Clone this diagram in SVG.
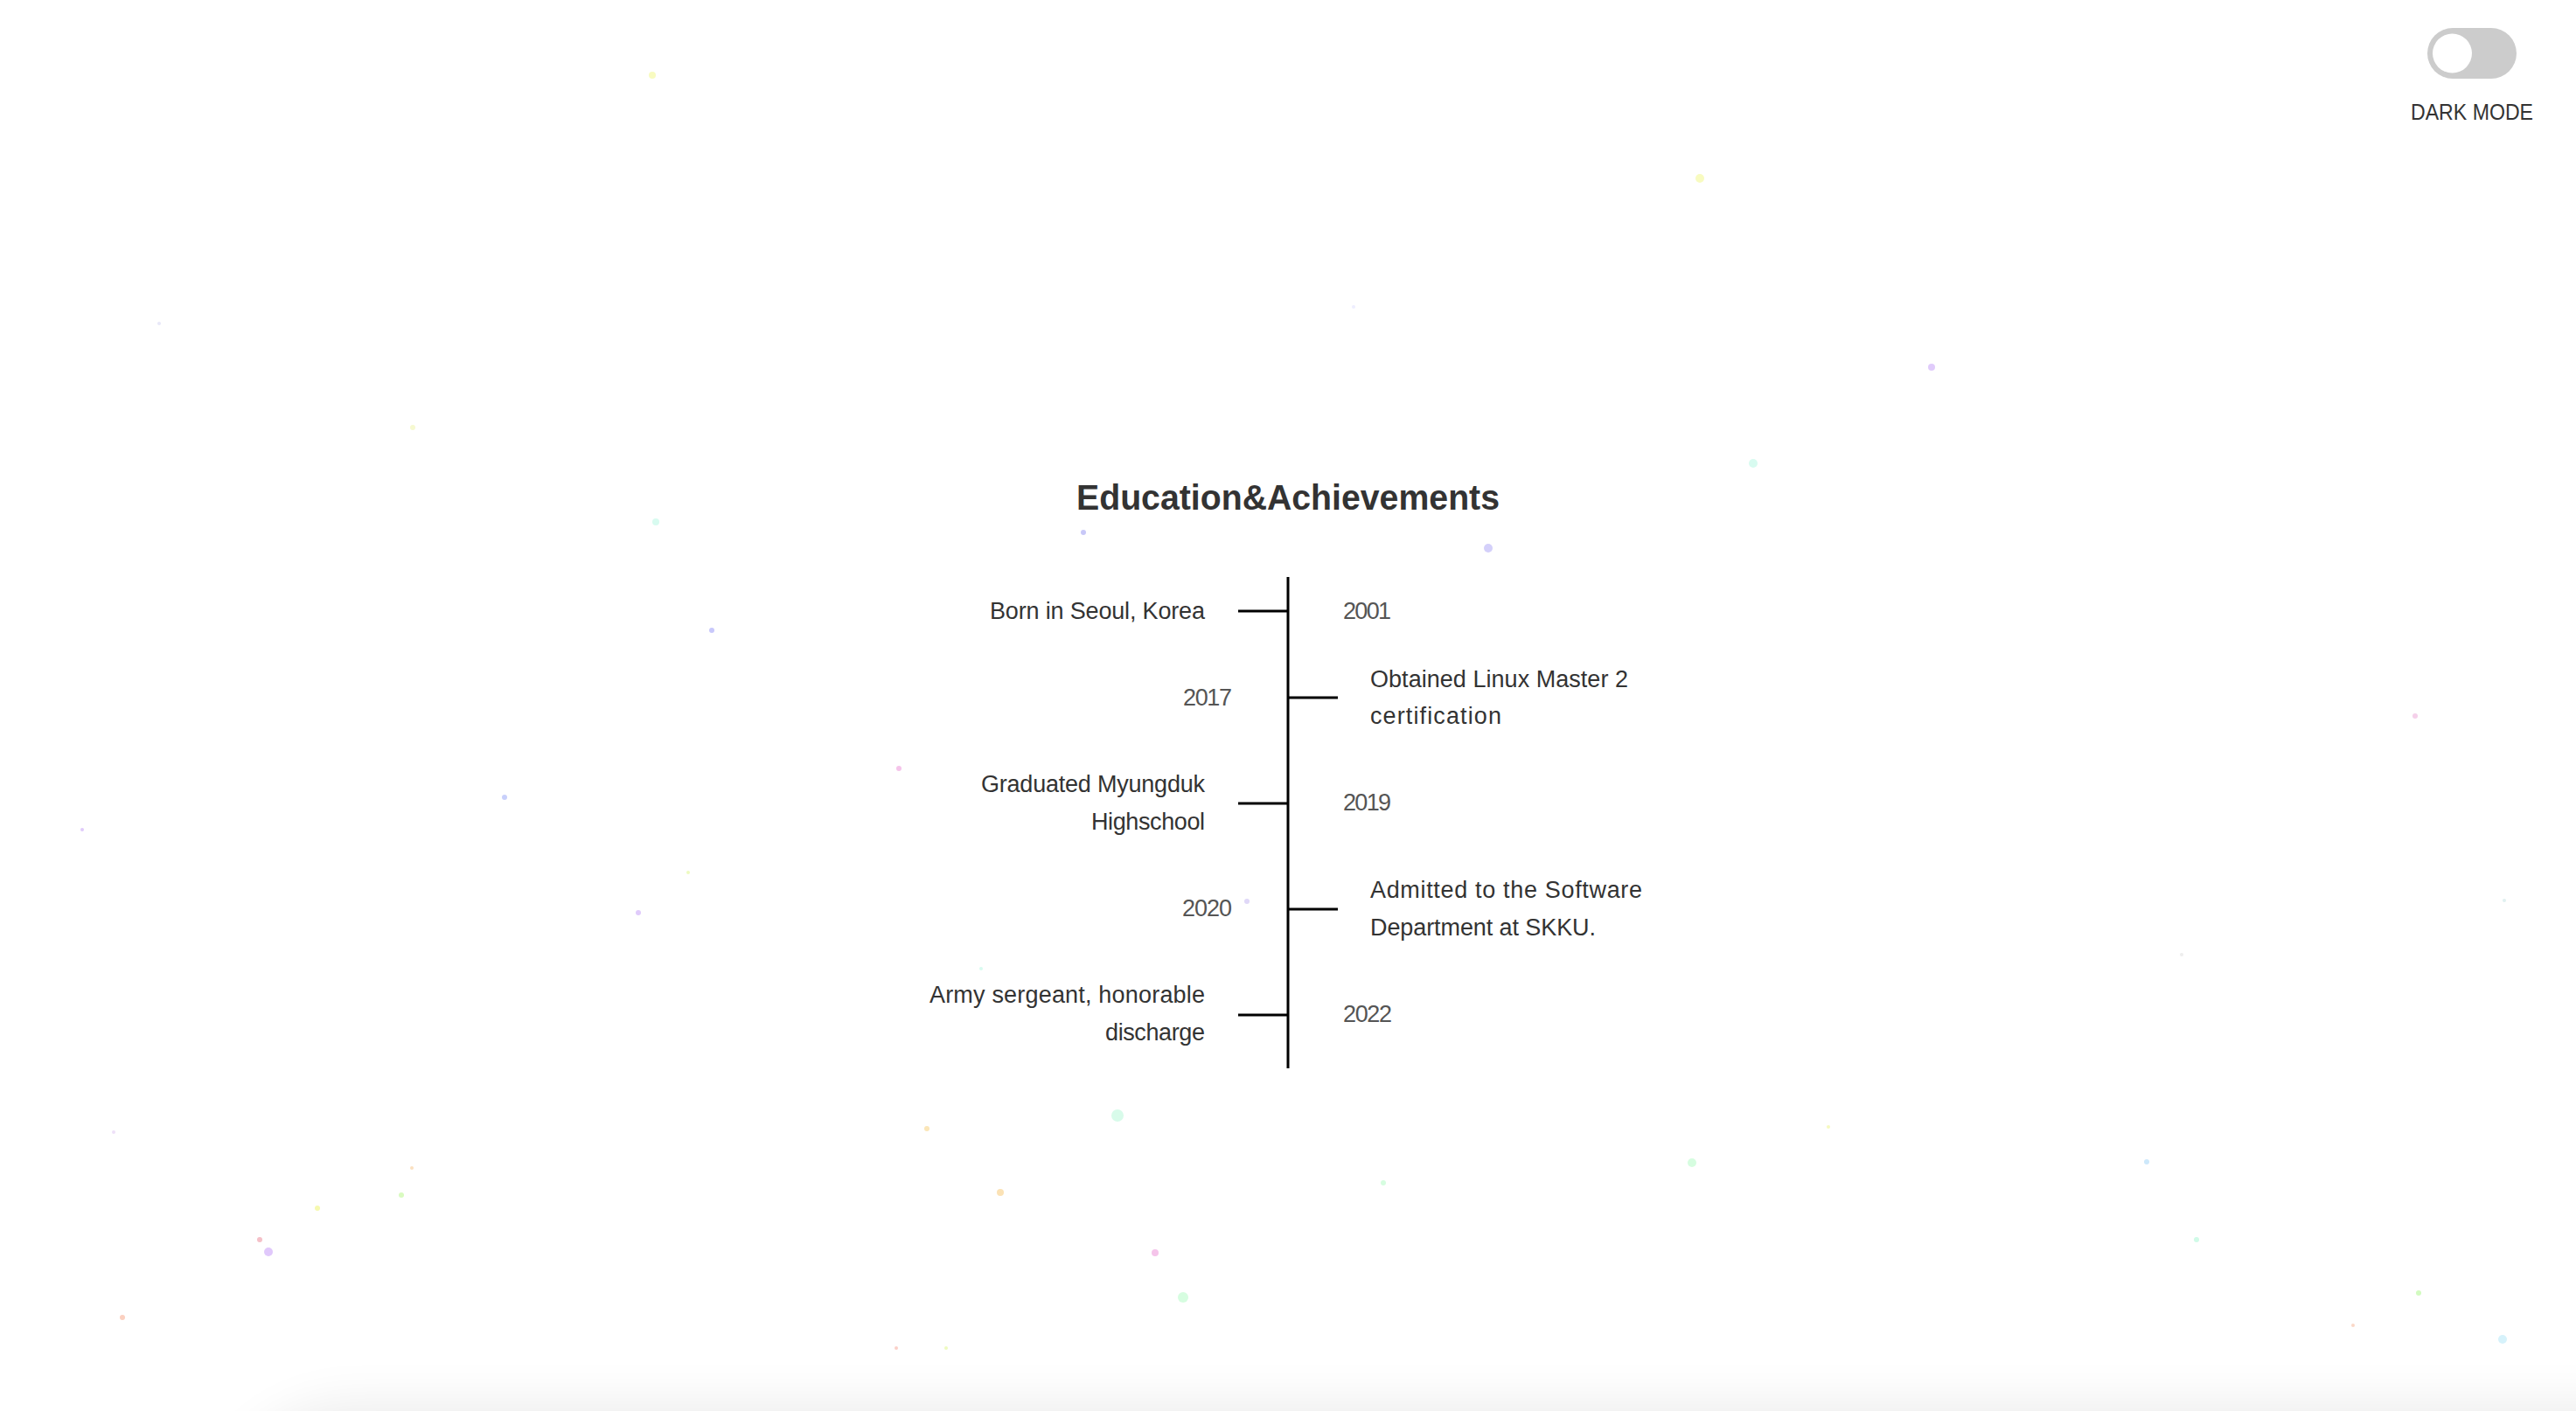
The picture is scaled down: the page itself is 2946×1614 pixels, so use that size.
<svg xmlns="http://www.w3.org/2000/svg" width="2946" height="1614" viewBox="0 0 2946 1614">
<style>
.t{font-family:"Liberation Sans",Arial,sans-serif;font-size:27px;fill:#333}
.y{font-family:"Liberation Sans",Arial,sans-serif;font-size:27px;fill:#555}
.h{font-family:"Liberation Sans",Arial,sans-serif;font-size:41px;font-weight:bold;fill:#333}
.e{text-anchor:end}
.ln{stroke:#000;stroke-width:3;fill:none}
</style>
<defs>
<filter id="blur" x="-20%" y="-100%" width="140%" height="300%"><feGaussianBlur stdDeviation="30"/></filter>
</defs>
<rect width="2946" height="1614" fill="#fff"/>
<g id="shade"><rect x="250" y="1608" width="3000" height="300" rx="150" fill="#000" opacity="0.08" filter="url(#blur)"/></g>
<g id="particles">
<circle cx="1239" cy="609" r="3" fill="#c8c8f8"/>
<circle cx="1702" cy="627" r="5" fill="#d4d0fa"/>
<circle cx="1278" cy="1276" r="7" fill="#d8fbea"/>
<circle cx="1060" cy="1291" r="3" fill="#fbe6b8"/>
<circle cx="1144" cy="1364" r="4" fill="#fbe2b5"/>
<circle cx="1321" cy="1433" r="4" fill="#f5c4ea"/>
<circle cx="1353" cy="1484" r="6" fill="#d6fde0"/>
<circle cx="1025" cy="1542" r="2" fill="#fbd0c8"/>
<circle cx="1082" cy="1542" r="2" fill="#eefbc0"/>
<circle cx="459" cy="1367" r="3" fill="#d9fbc0"/>
<circle cx="363" cy="1382" r="3" fill="#f6f9b0"/>
<circle cx="297" cy="1418" r="3" fill="#f5c0c8"/>
<circle cx="307" cy="1432" r="5" fill="#e0c8fb"/>
<circle cx="140" cy="1507" r="3" fill="#fbd0c0"/>
<circle cx="471" cy="1336" r="2" fill="#fbe0c0"/>
<circle cx="2455" cy="1329" r="3" fill="#cde8fb"/>
<circle cx="2512" cy="1418" r="3" fill="#d0fbe8"/>
<circle cx="2766" cy="1479" r="3" fill="#d2fbc0"/>
<circle cx="2691" cy="1516" r="2" fill="#fbd8c8"/>
<circle cx="2862" cy="1532" r="5" fill="#d6f2fb"/>
<circle cx="1944" cy="204" r="5" fill="#f8fbc0"/>
<circle cx="2209" cy="420" r="4" fill="#e0cbfb"/>
<circle cx="2005" cy="530" r="5" fill="#d8fbf0"/>
<circle cx="750" cy="597" r="4" fill="#d8fbf0"/>
<circle cx="814" cy="721" r="3" fill="#c8c8fb"/>
<circle cx="577" cy="912" r="3" fill="#c8d0fb"/>
<circle cx="787" cy="998" r="2" fill="#eefbc0"/>
<circle cx="730" cy="1044" r="3" fill="#e0cbfb"/>
<circle cx="746" cy="86" r="4" fill="#f8fbc0"/>
<circle cx="1028" cy="879" r="3" fill="#f5c4ea"/>
<circle cx="2762" cy="819" r="3" fill="#f5d0ea"/>
<circle cx="94" cy="949" r="2" fill="#e0cbfb"/>
<circle cx="182" cy="370" r="2" fill="#e8e8f8"/>
<circle cx="472" cy="489" r="3" fill="#f6f9d0"/>
<circle cx="1935" cy="1330" r="5" fill="#d6fde0"/>
<circle cx="1582" cy="1353" r="3" fill="#d6fde0"/>
<circle cx="2091" cy="1289" r="2" fill="#f6f9c0"/>
<circle cx="130" cy="1295" r="2" fill="#eee0f8"/>
<circle cx="2864" cy="1030" r="2" fill="#e0f0f0"/>
<circle cx="2495" cy="1092" r="2" fill="#eeeeee"/>
<circle cx="1426" cy="1031" r="3" fill="#e0d8f8"/>
<circle cx="1548" cy="351" r="2" fill="#eeeeff"/>
<circle cx="1122" cy="1108" r="2" fill="#d8fbf0"/>
</g>
<g id="toggle">
<rect x="2776" y="32" width="102" height="58" rx="29" fill="#ccc"/>
<circle cx="2804.5" cy="61" r="22.5" fill="#fff"/>
<text x="2827" y="137" text-anchor="middle" font-family="Liberation Sans, Arial, sans-serif" font-size="26" fill="#333" textLength="140" lengthAdjust="spacingAndGlyphs">DARK MODE</text>
</g>
<g id="title">
<text class="h" x="1473" y="583" text-anchor="middle" textLength="484" lengthAdjust="spacingAndGlyphs">Education&amp;Achievements</text>
</g>
<g id="connectors">
<line class="ln" x1="1473" y1="660" x2="1473" y2="1222"/>
<line class="ln" x1="1416" y1="699" x2="1473" y2="699"/>
<line class="ln" x1="1473" y1="798" x2="1530" y2="798"/>
<line class="ln" x1="1416" y1="919" x2="1473" y2="919"/>
<line class="ln" x1="1473" y1="1040" x2="1530" y2="1040"/>
<line class="ln" x1="1416" y1="1161" x2="1473" y2="1161"/>
</g>
<g id="node-2001">
<text class="t e" x="1378" y="708" textLength="246">Born in Seoul, Korea</text>
<text class="y" x="1536" y="708" textLength="55">2001</text>
</g>
<g id="node-2017">
<text class="y e" x="1409" y="807" textLength="56">2017</text>
<text class="t" x="1567" y="786" textLength="295">Obtained Linux Master 2</text>
<text class="t" x="1567" y="828" textLength="150">certification</text>
</g>
<g id="node-2019">
<text class="t e" x="1378" y="906" textLength="256">Graduated Myungduk</text>
<text class="t e" x="1378" y="949" textLength="130">Highschool</text>
<text class="y" x="1536" y="927" textLength="55">2019</text>
</g>
<g id="node-2020">
<text class="y e" x="1409" y="1048" textLength="57">2020</text>
<text class="t" x="1567" y="1027" textLength="311">Admitted to the Software</text>
<text class="t" x="1567" y="1070" textLength="258">Department at SKKU.</text>
</g>
<g id="node-2022">
<text class="t e" x="1378" y="1147" textLength="315">Army sergeant, honorable</text>
<text class="t e" x="1378" y="1190" textLength="114">discharge</text>
<text class="y" x="1536" y="1169" textLength="56">2022</text>
</g>
</svg>
